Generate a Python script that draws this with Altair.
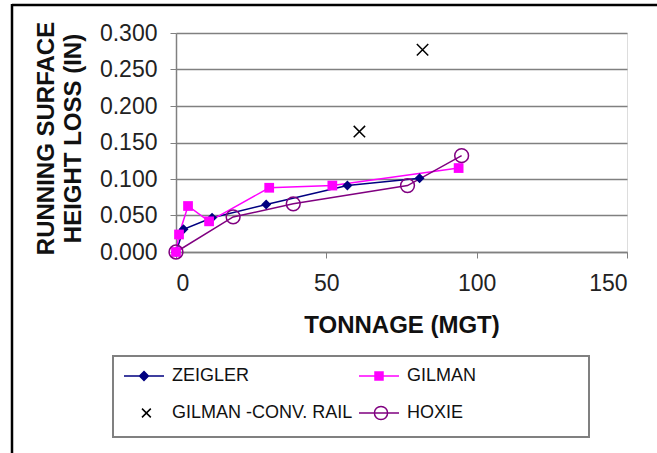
import altair as alt
import pandas as pd

# ---- data ----
zeigler_x = [0, 2.5, 12, 30, 57, 81]
zeigler_y = [0.0, 0.031, 0.047, 0.065, 0.091, 0.101]

gilman_x = [0, 1, 4, 11, 31, 52, 94]
gilman_y = [0.0, 0.024, 0.063, 0.042, 0.088, 0.091, 0.115]

conv_x = [61, 82]
conv_y = [0.165, 0.277]

hoxie_x = [0, 19, 39, 77, 95]
hoxie_y = [0.0, 0.048, 0.066, 0.091, 0.132]

series_names = ["ZEIGLER", "GILMAN", "GILMAN -CONV. RAIL", "HOXIE"]
y_ticks = [0.0, 0.05, 0.10, 0.15, 0.20, 0.25, 0.30]
x_ticks = [0, 50, 100, 150]

NAVY = "#000080"
MAGENTA = "#FF00FF"
PURPLE = "#800080"
BLACK = "#000000"
FONT = "Liberation Sans"
X_PATH = "M-1,-1L1,1M-1,1L1,-1"

def frame(xs, ys, name):
    return pd.DataFrame({"x": xs, "y": ys, "series": name, "order": range(len(xs))})

z_df = frame(zeigler_x, zeigler_y, "ZEIGLER")
g_df = frame(gilman_x, gilman_y, "GILMAN")
c_df = frame(conv_x, conv_y, "GILMAN -CONV. RAIL")
h_df = frame(hoxie_x, hoxie_y, "HOXIE")
all_df = pd.concat([z_df, g_df, c_df, h_df], ignore_index=True)

xs = alt.Scale(domain=[0, 150])
ys = alt.Scale(domain=[0, 0.3])

X = alt.X("x:Q", scale=xs, axis=alt.Axis(
    values=x_ticks, grid=False, title="TONNAGE (MGT)", format="d",
    labelFont=FONT, labelFontSize=23, labelColor="#222222", labelPadding=14,
    tickSize=6, tickColor="#808080", domainColor="#808080", domainWidth=1.5,
    titleFont=FONT, titleFontSize=24, titleFontWeight="bold", titleColor="#111111",
    titleBaseline="middle", titleY=73, titleX=225.5))
Y = alt.Y("y:Q", scale=ys, axis=alt.Axis(
    values=y_ticks, format=".3f", grid=True, gridColor="#808080", gridWidth=1.5,
    labelFont=FONT, labelFontSize=23, labelColor="#222222", labelPadding=13,
    tickSize=6, tickColor="#808080", domainColor="#808080", domainWidth=1.5,
    title=["RUNNING SURFACE", "HEIGHT LOSS (IN)"],
    titleFont=FONT, titleFontSize=24, titleFontWeight="bold", titleColor="#111111",
    titleLineHeight=27, titleBaseline="middle", titleAlign="center",
    titleX=-130, titleY=105))

def line(df, color):
    return alt.Chart(df).mark_line(color=color, strokeWidth=1.5).encode(
        x=X, y=Y, order="order:O")

zl = line(z_df, NAVY)
gl = line(g_df, MAGENTA)
hl = line(h_df, PURPLE)

zp = alt.Chart(z_df).mark_point(shape="diamond", filled=True, color=NAVY, size=100, opacity=1).encode(x=X, y=Y)
gp = alt.Chart(g_df).mark_point(shape="square", filled=True, color=MAGENTA, size=95, opacity=1).encode(x=X, y=Y)
cp = alt.Chart(c_df).mark_point(shape=X_PATH, filled=False, color=BLACK, size=130, strokeWidth=1.5, opacity=1).encode(x=X, y=Y)
hp = alt.Chart(h_df).mark_point(shape="circle", filled=False, color=PURPLE, size=190, strokeWidth=1.5, opacity=1).encode(x=X, y=Y)

# legend-only layer (no rows drawn), legend built from explicit domains
legend_shapes = [
    "M-1,0H1M0,-0.22L0.22,0L0,0.22L-0.22,0Z",
    "M-1,0H1M-0.2,-0.2H0.2V0.2H-0.2Z",
    "M-0.1,-0.22L0.34,0.22M-0.1,0.22L0.34,-0.22",
    "M-1,0H1M0.43,0A0.33,0.33 0 1,1 -0.23,0A0.33,0.33 0 1,1 0.43,0Z",
]
leg = alt.Legend(
    orient="none", legendX=-53, legendY=322, columns=2, direction="horizontal",
    title=None, labelFont=FONT, labelFontSize=18, labelColor="#111111", labelLimit=400,
    symbolSize=1600, symbolStrokeWidth=1.5, labelOffset=7, columnPadding=3,
    rowPadding=7, padding=0, symbolLimit=0)
legend_layer = alt.Chart(all_df).transform_filter("datum.x < -1000").mark_point(
    opacity=1, filled=False).encode(
    x=X, y=Y,
    shape=alt.Shape("series:N", scale=alt.Scale(domain=series_names, range=legend_shapes), legend=leg),
    stroke=alt.Stroke("series:N", scale=alt.Scale(domain=series_names, range=[NAVY, MAGENTA, BLACK, PURPLE]), legend=leg),
    fill=alt.Fill("series:N", scale=alt.Scale(domain=series_names, range=[NAVY, MAGENTA, "transparent", "transparent"]), legend=leg),
)

# decorative legend box and outer frame
box = alt.Chart(pd.DataFrame({"a": [0]})).mark_rect(
    fill=None, stroke="#808080", strokeWidth=2).encode(
    x=alt.value(-63), x2=alt.value(413), y=alt.value(323), y2=alt.value(404))
frame_top = alt.Chart(pd.DataFrame({"a": [0]})).mark_rule(color=BLACK, strokeWidth=2.5).encode(
    x=alt.value(-164), x2=alt.value(500), y=alt.value(-28))
frame_left = alt.Chart(pd.DataFrame({"a": [0]})).mark_rule(color=BLACK, strokeWidth=2.5).encode(
    x=alt.value(-164), y=alt.value(-29), y2=alt.value(440))

chart = alt.layer(
    zl, gl, hl, zp, gp, cp, hp, legend_layer, box, frame_top, frame_left
).properties(
    width=451, height=219,
    autosize=alt.AutoSizeParams(type="none"),
    padding={"left": 176, "top": 33, "right": 30, "bottom": 201},
).configure_view(stroke="#808080", strokeWidth=1.5).configure(background="white")

chart.save("out.html", embed_options={"renderer": "svg", "actions": False})
